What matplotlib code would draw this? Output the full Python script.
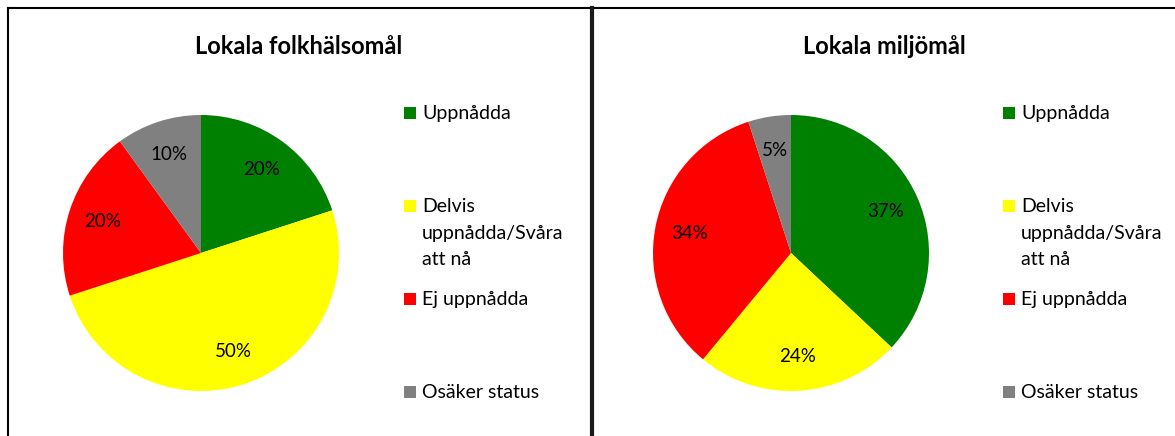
import matplotlib.pyplot as plt
from matplotlib.patches import Rectangle
from matplotlib.lines import Line2D

categories = ["Uppnådda", "Delvis\nuppnådda/Svåra\natt nå", "Ej uppnådda", "Osäker status"]
colors = ["#008000", "#FFFF00", "#FF0000", "#808080"]
folkhalsa = [20, 50, 20, 10]
miljo = [37, 24, 34, 5]
titles = ["Lokala folkhälsomål", "Lokala miljömål"]

W, H = 1175, 436
plt.rcParams["font.family"] = ["Lato", "DejaVu Sans"]
fig = plt.figure(figsize=(W / 100, H / 100), dpi=100)

def px_box(cx, cy, r):
    # pixel center/radius -> figure fraction rect
    return [(cx - r) / W, (H - cy - r) / H, 2 * r / W, 2 * r / H]

panels = [(0, 201, 299, 404), (590, 791, 884, 1003)]
for (x0, cx, tx, lx), vals, title in zip(panels, [folkhalsa, miljo], titles):
    ax = fig.add_axes(px_box(cx, 253, 138))
    wedges, texts, autotexts = ax.pie(vals, colors=colors, startangle=90, counterclock=False,
                                      autopct=lambda p: f"{p:.0f}%", pctdistance=0.75,
                                      textprops={"fontsize": 13.5, "color": "black"})
    ax.set_xlim(-1, 1)
    ax.set_ylim(-1, 1)
    ax.set_aspect("auto")
    fig.text(tx / W, 1 - 47 / H, title, ha="center", va="center", fontsize=17, fontweight="bold")
    # legend, first lines evenly spaced
    for i, (lab, col) in enumerate(zip(categories, colors)):
        y = 113 + i * 93
        fig.add_artist(Rectangle((lx / W, 1 - (y + 6) / H), 12 / W, 12 / H,
                                 facecolor=col, edgecolor="none", transform=fig.transFigure))
        for k, line in enumerate(lab.split("\n")):
            fig.text((lx + 18) / W, 1 - (y + 6 + k * 26.5) / H, line, ha="left", va="baseline",
                     fontsize=14)

# frame lines
fig.add_artist(Line2D([8 / W, 1], [1 - 8 / H, 1 - 8 / H], color="black", lw=1.5, transform=fig.transFigure))
fig.add_artist(Line2D([8 / W, 8 / W], [0, 1 - 8 / H], color="black", lw=1.5, transform=fig.transFigure))
fig.add_artist(Line2D([592 / W, 592 / W], [0, 1 - 8 / H], color="#1a1a1a", lw=3, transform=fig.transFigure))

fig.savefig("out.png", dpi=100)
